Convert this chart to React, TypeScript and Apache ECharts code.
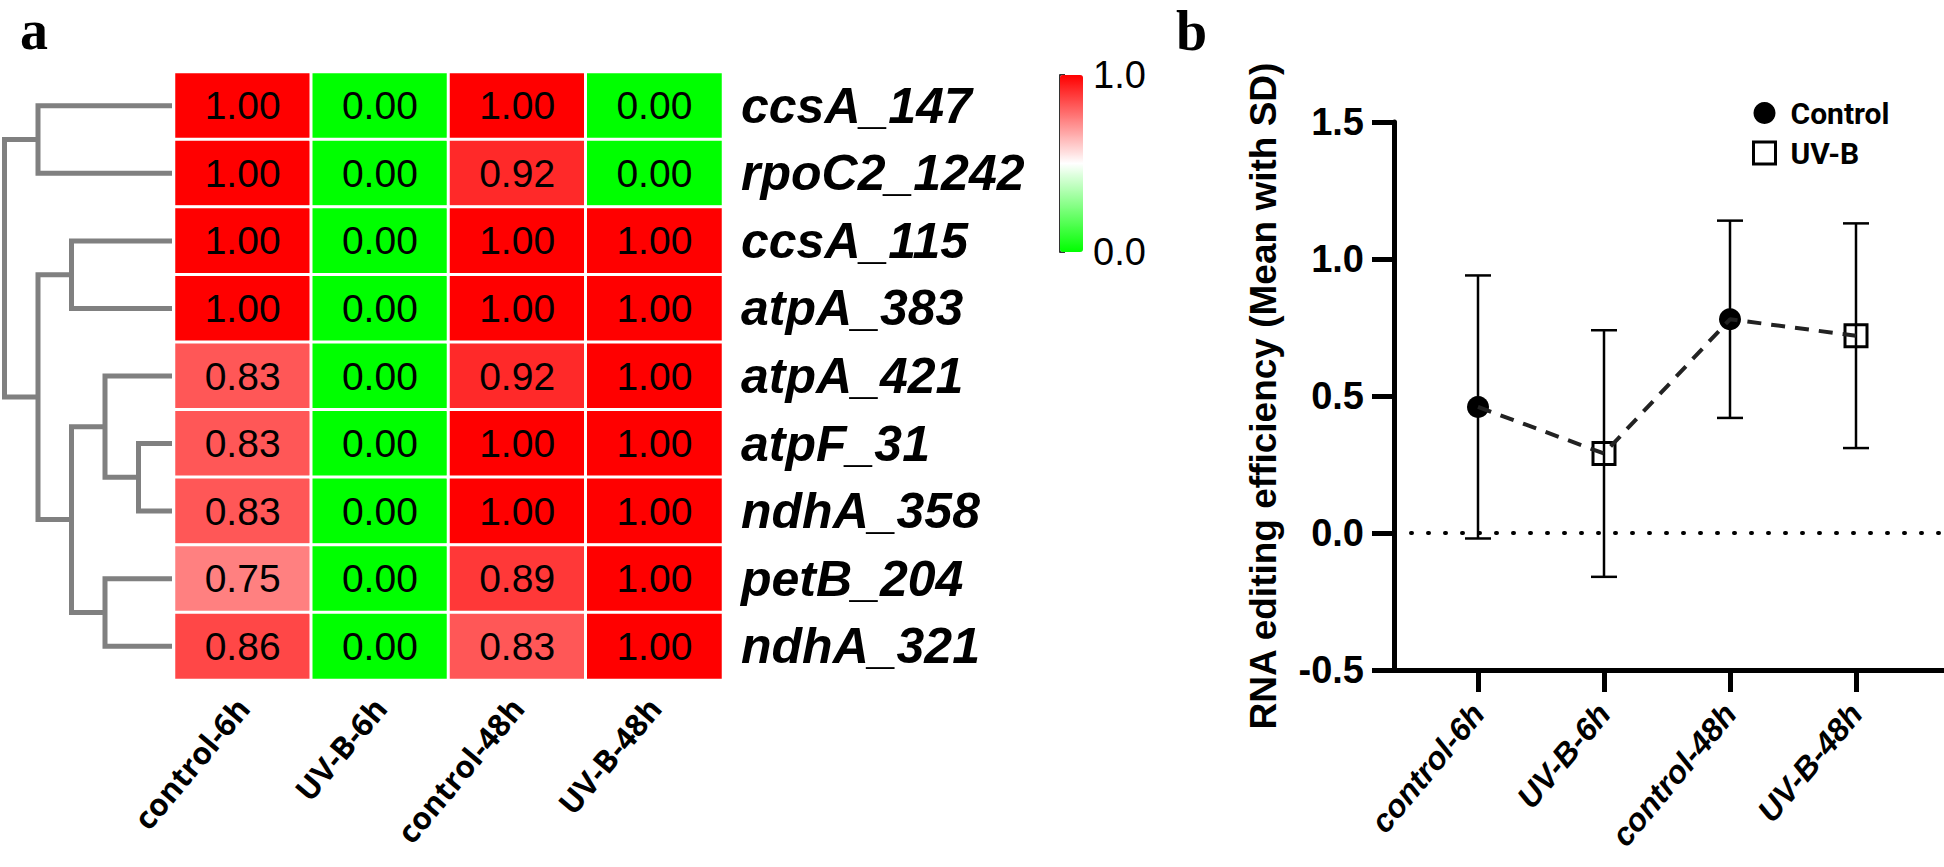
import React, { useEffect, useRef } from "react";
import * as echarts from "echarts";

// ---------- Panel a: heatmap data ----------
const rowNames = ["ccsA_147", "rpoC2_1242", "ccsA_115", "atpA_383", "atpA_421", "atpF_31", "ndhA_358", "petB_204", "ndhA_321"];
const colNames = ["control-6h", "UV-B-6h", "control-48h", "UV-B-48h"];
const control6h = [1.0, 1.0, 1.0, 1.0, 0.83, 0.83, 0.83, 0.75, 0.86];
const uvb6h = [0, 0, 0, 0, 0, 0, 0, 0, 0];
const control48h = [1.0, 0.92, 1.0, 1.0, 0.92, 1.0, 1.0, 0.89, 0.83];
const uvb48h = [0, 0, 1.0, 1.0, 1.0, 1.0, 1.0, 1.0, 1.0];

// dendrogram linkage (scipy style): [nodeA, nodeB, height]; new nodes numbered from 9
const dendroLinkage = [
  [5, 6, 1],
  [4, 9, 2],
  [7, 8, 2],
  [10, 11, 3],
  [2, 3, 3],
  [13, 12, 4],
  [0, 1, 4],
  [15, 14, 5],
];
const colorbarTicks = [0, 0.2, 0.4, 0.6, 0.8, 1.0];

// ---------- Panel b: RNA editing efficiency ----------
const groups = ["control-6h", "UV-B-6h", "control-48h", "UV-B-48h"];
const treatments = ["Control", "UV-B", "Control", "UV-B"];
const means = [0.46, 0.29, 0.78, 0.72];
const sds = [0.48, 0.45, 0.36, 0.41];
const yTicks = [-0.5, 0, 0.5, 1.0, 1.5];

const SANS = "'Liberation Sans', Arial, sans-serif";

function buildOption() {
  const columns = [control6h, uvb6h, control48h, uvb48h];
  const heatData: number[][] = [];
  columns.forEach((col, ci) => col.forEach((v, ri) => heatData.push([ci, ri, v])));

  // dendrogram node positions
  const nodes: { y: number; h: number }[] = rowNames.map((_, i) => ({ y: i, h: 0 }));
  const dendroData: number[][] = [];
  dendroLinkage.forEach(([a, b, h]) => {
    const A = nodes[a];
    const B = nodes[b];
    dendroData.push([A.h, A.y, B.h, B.y, h]);
    nodes.push({ y: (A.y + B.y) / 2, h });
  });

  const ctrlPts: number[][] = [];
  const uvPts: number[][] = [];
  const errData: number[][] = [];
  const linePts: number[][] = [];
  groups.forEach((g, i) => {
    const p = [i + 1, means[i]];
    linePts.push(p);
    if (treatments[i] === "Control") ctrlPts.push(p);
    else uvPts.push(p);
    errData.push([i + 1, means[i] - sds[i], means[i] + sds[i]]);
  });

  return {
    animation: false,
    backgroundColor: "#ffffff",
    graphic: [
      { type: "text", left: 20, top: 2, style: { text: "a", font: "bold 56px 'Liberation Serif', 'Times New Roman', serif", fill: "#000" } },
      { type: "text", left: 1176, top: 3, style: { text: "b", font: "bold 56px 'Liberation Serif', 'Times New Roman', serif", fill: "#000" } },
    ],
    grid: [
      { left: 174, top: 72, width: 549, height: 608 },
      { left: 4.5, top: 72, width: 167.5, height: 608 },
      { left: 1060, top: 75, width: 23, height: 177 },
      { left: 1394, top: 122, width: 550, height: 548 },
    ],
    xAxis: [
      {
        type: "category",
        gridIndex: 0,
        data: colNames,
        position: "bottom",
        axisLine: { show: false },
        axisTick: { show: false },
        axisLabel: {
          rotate: 50,
          margin: 22,
          interval: 0,
          color: "#000",
          fontFamily: "'Open Sans', Lato, sans-serif",
          fontWeight: "bold",
          fontSize: 31,
        },
      },
      { type: "value", gridIndex: 1, min: 0, max: 5, inverse: true, show: false },
      { type: "value", gridIndex: 2, min: 0, max: 1, show: false },
      {
        type: "value",
        gridIndex: 3,
        min: 1 - 84 / 126,
        max: 4 + 88 / 126,
        splitLine: { show: false },
        axisLine: { show: true, onZero: false, lineStyle: { color: "#000", width: 5 } },
        axisTick: { show: true, customValues: [1, 2, 3, 4], length: 22, lineStyle: { color: "#000", width: 5 } },
        axisLabel: {
          customValues: [1, 2, 3, 4],
          formatter: (v: number) => groups[Math.round(v) - 1] || "",
          rotate: 50,
          margin: 38,
          color: "#000",
          fontFamily: SANS,
          fontWeight: "bold",
          fontStyle: "italic",
          fontSize: 32,
        },
      },
    ],
    yAxis: [
      {
        type: "category",
        gridIndex: 0,
        data: rowNames,
        inverse: true,
        position: "right",
        axisLine: { show: false },
        axisTick: { show: false },
        axisLabel: {
          margin: 18,
          color: "#000",
          fontFamily: SANS,
          fontWeight: "bold",
          fontStyle: "italic",
          fontSize: 50,
        },
      },
      { type: "value", gridIndex: 1, min: -0.5, max: rowNames.length - 0.5, inverse: true, show: false },
      {
        type: "value",
        gridIndex: 2,
        position: "right",
        min: 0,
        max: 1,
        interval: 0.2,
        splitLine: { show: false },
        axisLine: { show: true, lineStyle: { color: "#333", width: 2 } },
        axisTick: { show: true, length: 5, lineStyle: { color: "#333", width: 2 } },
        axisLabel: {
          margin: 10,
          color: "#000",
          fontFamily: SANS,
          fontSize: 38,
          showMinLabel: true,
          showMaxLabel: true,
          formatter: (v: number) => (v === colorbarTicks[0] || v === colorbarTicks[colorbarTicks.length - 1] ? v.toFixed(1) : ""),
        },
      },
      {
        type: "value",
        gridIndex: 3,
        min: yTicks[0],
        max: yTicks[yTicks.length - 1],
        interval: 0.5,
        splitLine: { show: false },
        axisLine: { show: true, onZero: false, lineStyle: { color: "#000", width: 5 } },
        axisTick: { show: true, length: 22, lineStyle: { color: "#000", width: 5 } },
        axisLabel: {
          margin: 30,
          color: "#000",
          fontFamily: SANS,
          fontWeight: "bold",
          fontSize: 38,
          formatter: (v: number) => v.toFixed(1),
        },
        name: "RNA editing efficiency (Mean with SD)",
        nameLocation: "middle",
        nameGap: 112,
        nameTextStyle: { color: "#000", fontFamily: SANS, fontWeight: "bold", fontSize: 37 },
      },
    ],
    visualMap: {
      type: "continuous",
      seriesIndex: 0,
      dimension: 2,
      min: 0,
      max: 1,
      calculable: false,
      orient: "vertical",
      left: 1060,
      top: 75,
      padding: 0,
      itemWidth: 23,
      itemHeight: 177,
      inRange: { color: ["#00ff00", "#ffffff", "#ff0000"] },
    },
    legend: {
      orient: "vertical",
      left: 1747,
      top: 93,
      itemWidth: 22,
      itemHeight: 22,
      itemGap: 10,
      selectedMode: false,
      textStyle: { color: "#000", fontFamily: "Roboto, sans-serif", fontWeight: "bold", fontSize: 30, padding: [0, 0, 0, 10] },
      data: [
        { name: "Control", icon: "circle", itemStyle: { color: "#000" } },
        { name: "UV-B", icon: "rect", itemStyle: { color: "#fff", borderColor: "#000", borderWidth: 3 } },
      ],
    },
    series: [
      {
        type: "heatmap",
        xAxisIndex: 0,
        yAxisIndex: 0,
        data: heatData,
        itemStyle: { borderColor: "#ffffff", borderWidth: 3 },
        label: {
          show: true,
          color: "#000",
          fontFamily: SANS,
          fontSize: 39,
          formatter: (p: any) => Number(p.value[2]).toFixed(2),
        },
        emphasis: { disabled: true },
      },
      {
        type: "custom",
        xAxisIndex: 1,
        yAxisIndex: 1,
        data: dendroData,
        encode: { x: [0, 2, 4], y: [1, 3] },
        silent: true,
        renderItem: (params: any, api: any) => {
          const hA = api.value(0), yA = api.value(1), hB = api.value(2), yB = api.value(3), h = api.value(4);
          return {
            type: "polyline",
            shape: { points: [api.coord([hA, yA]), api.coord([h, yA]), api.coord([h, yB]), api.coord([hB, yB])] },
            style: { stroke: "#808080", lineWidth: 5, fill: null, lineJoin: "miter" },
          };
        },
      },
      {
        type: "line",
        xAxisIndex: 3,
        yAxisIndex: 3,
        data: linePts,
        symbol: "none",
        silent: true,
        lineStyle: { color: "#222", width: 4, type: [14, 10] },
        markLine: {
          silent: true,
          symbol: "none",
          label: { show: false },
          lineStyle: { color: "#000", width: 4, type: [1, 16], cap: "round" },
          data: [{ yAxis: 0 }],
        },
        z: 5,
      },
      {
        type: "custom",
        xAxisIndex: 3,
        yAxisIndex: 3,
        data: errData,
        encode: { x: 0, y: [1, 2] },
        silent: true,
        z: 4,
        renderItem: (params: any, api: any) => {
          const x = api.value(0);
          const bot = api.coord([x, api.value(1)]);
          const top = api.coord([x, api.value(2)]);
          const w = 13;
          const st = { stroke: "#000", lineWidth: 2.5 };
          return {
            type: "group",
            children: [
              { type: "line", shape: { x1: top[0], y1: top[1], x2: bot[0], y2: bot[1] }, style: st },
              { type: "line", shape: { x1: top[0] - w, y1: top[1], x2: top[0] + w, y2: top[1] }, style: st },
              { type: "line", shape: { x1: bot[0] - w, y1: bot[1], x2: bot[0] + w, y2: bot[1] }, style: st },
            ],
          };
        },
      },
      {
        name: "Control",
        type: "scatter",
        xAxisIndex: 3,
        yAxisIndex: 3,
        data: ctrlPts,
        symbol: "circle",
        symbolSize: 22,
        itemStyle: { color: "#000", opacity: 1 },
        z: 3,
      },
      {
        name: "UV-B",
        type: "scatter",
        xAxisIndex: 3,
        yAxisIndex: 3,
        data: uvPts,
        symbol: "rect",
        symbolSize: 22,
        itemStyle: { color: "#fff", borderColor: "#000", borderWidth: 3, opacity: 1 },
        z: 3,
      },
    ],
  };
}

export default function App() {
  const ref = useRef<HTMLDivElement>(null);
  useEffect(() => {
    document.body.style.margin = "0";
    if (!ref.current) return;
    const chart = echarts.init(ref.current, null, { renderer: "svg" });
    chart.setOption(buildOption() as any);
    return () => chart.dispose();
  }, []);
  return <div ref={ref} style={{ width: 1944, height: 867 }} />;
}
